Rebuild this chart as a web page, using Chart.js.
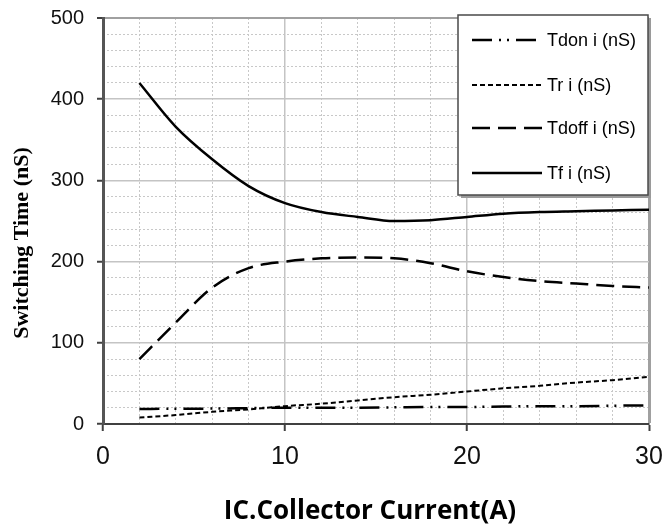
<!DOCTYPE html>
<html>
<head>
<meta charset="utf-8">
<script src="https://cdn.jsdelivr.net/npm/chart.js@4.4.1/dist/chart.umd.min.js"></script>
<style>
  html, body { margin: 0; padding: 0; background: #fff; }
  #wrap { width: 665px; height: 528px; position: relative; }
</style>
</head>
<body>
<div id="wrap"><canvas id="chart"></canvas></div>
<script>
// Data
const current = [2, 4, 6, 8, 10, 12, 14, 16, 18, 20, 22, 24, 26, 28, 30];
const tdon  = [18.5, 18.8, 19, 19.5, 20, 20, 20, 20.5, 21, 21, 21.5, 22, 22, 22.5, 23];
const tr    = [8, 11, 15, 18, 22, 25, 29, 33, 36, 40, 44, 47, 51, 54, 58];
const tdoff = [80, 125, 168, 192, 200, 204, 205, 204, 198, 188, 181, 176, 173, 170, 168];
const tf    = [420, 366, 326, 293, 272, 261, 255, 250, 251, 255, 259, 261, 262, 263, 264];

const seriesNames = ['Tdon i (nS)', 'Tr i (nS)', 'Tdoff i (nS)', 'Tf i (nS)'];
const xTitle = 'IC.Collector Current(A)';
const yTitle = 'Switching Time (nS)';

const pts = arr => arr.map((v, i) => ({ x: current[i], y: v }));

function line(label, values, dash, width) {
    return {
        label: label,
        data: pts(values),
        borderColor: '#000',
        borderWidth: width,
        borderDash: dash,
        pointRadius: 0,
        fill: false,
        cubicInterpolationMode: 'monotone'
    };
}

// drop the label overhang padding so the plot box sits where the reference has it
function noPad(s) {
    s.paddingLeft = 0; s.paddingRight = 0;
    s.paddingTop = 0; s.paddingBottom = 0;
}

// Axis titles + boxed legend drawn by hand (Excel-like layout)
const decorations = {
    id: 'decorations',
    afterDraw(chart) {
        const c = chart.ctx;
        const a = chart.chartArea;
        c.save();
        c.fillStyle = '#000';

        // y title
        c.save();
        c.translate(22, 243);
        c.rotate(-Math.PI / 2);
        c.font = 'bold 22px "Liberation Serif"';
        c.textAlign = 'center';
        c.textBaseline = 'middle';
        c.fillText(yTitle, 0, 0);
        c.restore();

        // x title
        c.font = 'bold 26px "Open Sans"';
        c.textAlign = 'center';
        c.textBaseline = 'alphabetic';
        c.fillText(xTitle, (a.left + a.right) / 2 - 6, 519);

        // legend box
        const bx = 458, by = 15, bw = 190, bh = 180;
        c.fillStyle = '#9a9a9a';
        c.fillRect(bx + 3, by + 3, bw, bh);
        c.fillStyle = '#fff';
        c.fillRect(bx, by, bw, bh);
        c.strokeStyle = '#4a4a4a';
        c.lineWidth = 1.5;
        c.strokeRect(bx, by, bw, bh);

        const rows = [40, 85, 128, 173];
        c.font = '18px "Liberation Sans"';
        c.textAlign = 'left';
        c.textBaseline = 'middle';
        chart.data.datasets.forEach((ds, i) => {
            const y = rows[i];
            c.beginPath();
            c.setLineDash(ds.borderDash || []);
            c.lineWidth = ds.borderWidth;
            c.strokeStyle = '#000';
            c.moveTo(472, y);
            c.lineTo(542, y);
            c.stroke();
            c.setLineDash([]);
            c.fillStyle = '#000';
            c.fillText(ds.label, 547, y + 1);
        });
        c.restore();
    }
};

const ctx = document.getElementById('chart').getContext('2d');

new Chart(ctx, {
    type: 'line',
    data: {
        datasets: [
            line(seriesNames[0], tdon, [20, 7, 2, 6, 2, 7], 2.5),
            line(seriesNames[1], tr, [5, 3], 2),
            line(seriesNames[2], tdoff, [18, 8], 2.5),
            line(seriesNames[3], tf, [], 2.5)
        ]
    },
    options: {
        responsive: true,
        maintainAspectRatio: false,
        animation: false,
        layout: { padding: { top: 18, right: 16, left: 0, bottom: 0 } },
        plugins: {
            legend: { display: false },
            tooltip: { enabled: false }
        },
        scales: {
            xMinor: {
                type: 'linear',
                position: 'bottom',
                min: 0, max: 30,
                ticks: { display: false, stepSize: 2 },
                border: { display: false, dash: [2, 2] },
                grid: {
                    drawTicks: false,
                    color: c => (c.tick.value % 10 === 0 ? 'rgba(0,0,0,0)' : '#c8c8c8')
                },
                afterFit: s => { s.height = 0; noPad(s); }
            },
            yMinor: {
                type: 'linear',
                position: 'left',
                min: 0, max: 500,
                ticks: { display: false, stepSize: 20 },
                border: { display: false, dash: [2, 2] },
                grid: {
                    drawTicks: false,
                    color: c => (c.tick.value % 100 === 0 ? 'rgba(0,0,0,0)' : '#c8c8c8')
                },
                afterFit: s => { s.width = 0; noPad(s); }
            },
            x: {
                type: 'linear',
                position: 'bottom',
                min: 0, max: 30,
                ticks: {
                    stepSize: 10,
                    color: '#111',
                    padding: 11,
                    maxRotation: 0,
                    font: { family: 'Liberation Sans', size: 25 }
                },
                border: { color: '#404040', width: 2 },
                grid: {
                    tickLength: 7,
                    tickColor: '#404040',
                    tickWidth: 2,
                    color: c => (c.tick.value === 0 ? 'rgba(0,0,0,0)' : (c.tick.value === 30 ? '#a0a0a0' : '#c4c4c4')),
                    lineWidth: c => (c.tick.value === 30 ? 3 : 1.5)
                },
                afterFit: s => { s.height = 104; noPad(s); }
            },
            y: {
                type: 'linear',
                position: 'left',
                min: 0, max: 500,
                ticks: {
                    stepSize: 100,
                    color: '#111',
                    padding: 13,
                    font: { family: 'Liberation Sans', size: 20 }
                },
                border: { color: '#555', width: 3 },
                grid: {
                    tickLength: 6,
                    tickColor: '#404040',
                    tickWidth: 2,
                    color: c => (c.tick.value === 0 ? 'rgba(0,0,0,0)' : (c.tick.value === 500 ? '#a0a0a0' : '#c4c4c4')),
                    lineWidth: c => (c.tick.value === 500 ? 2 : 1.5)
                },
                afterFit: s => { s.width = 103; noPad(s); }
            }
        }
    },
    plugins: [decorations]
});
</script>
</body>
</html>
